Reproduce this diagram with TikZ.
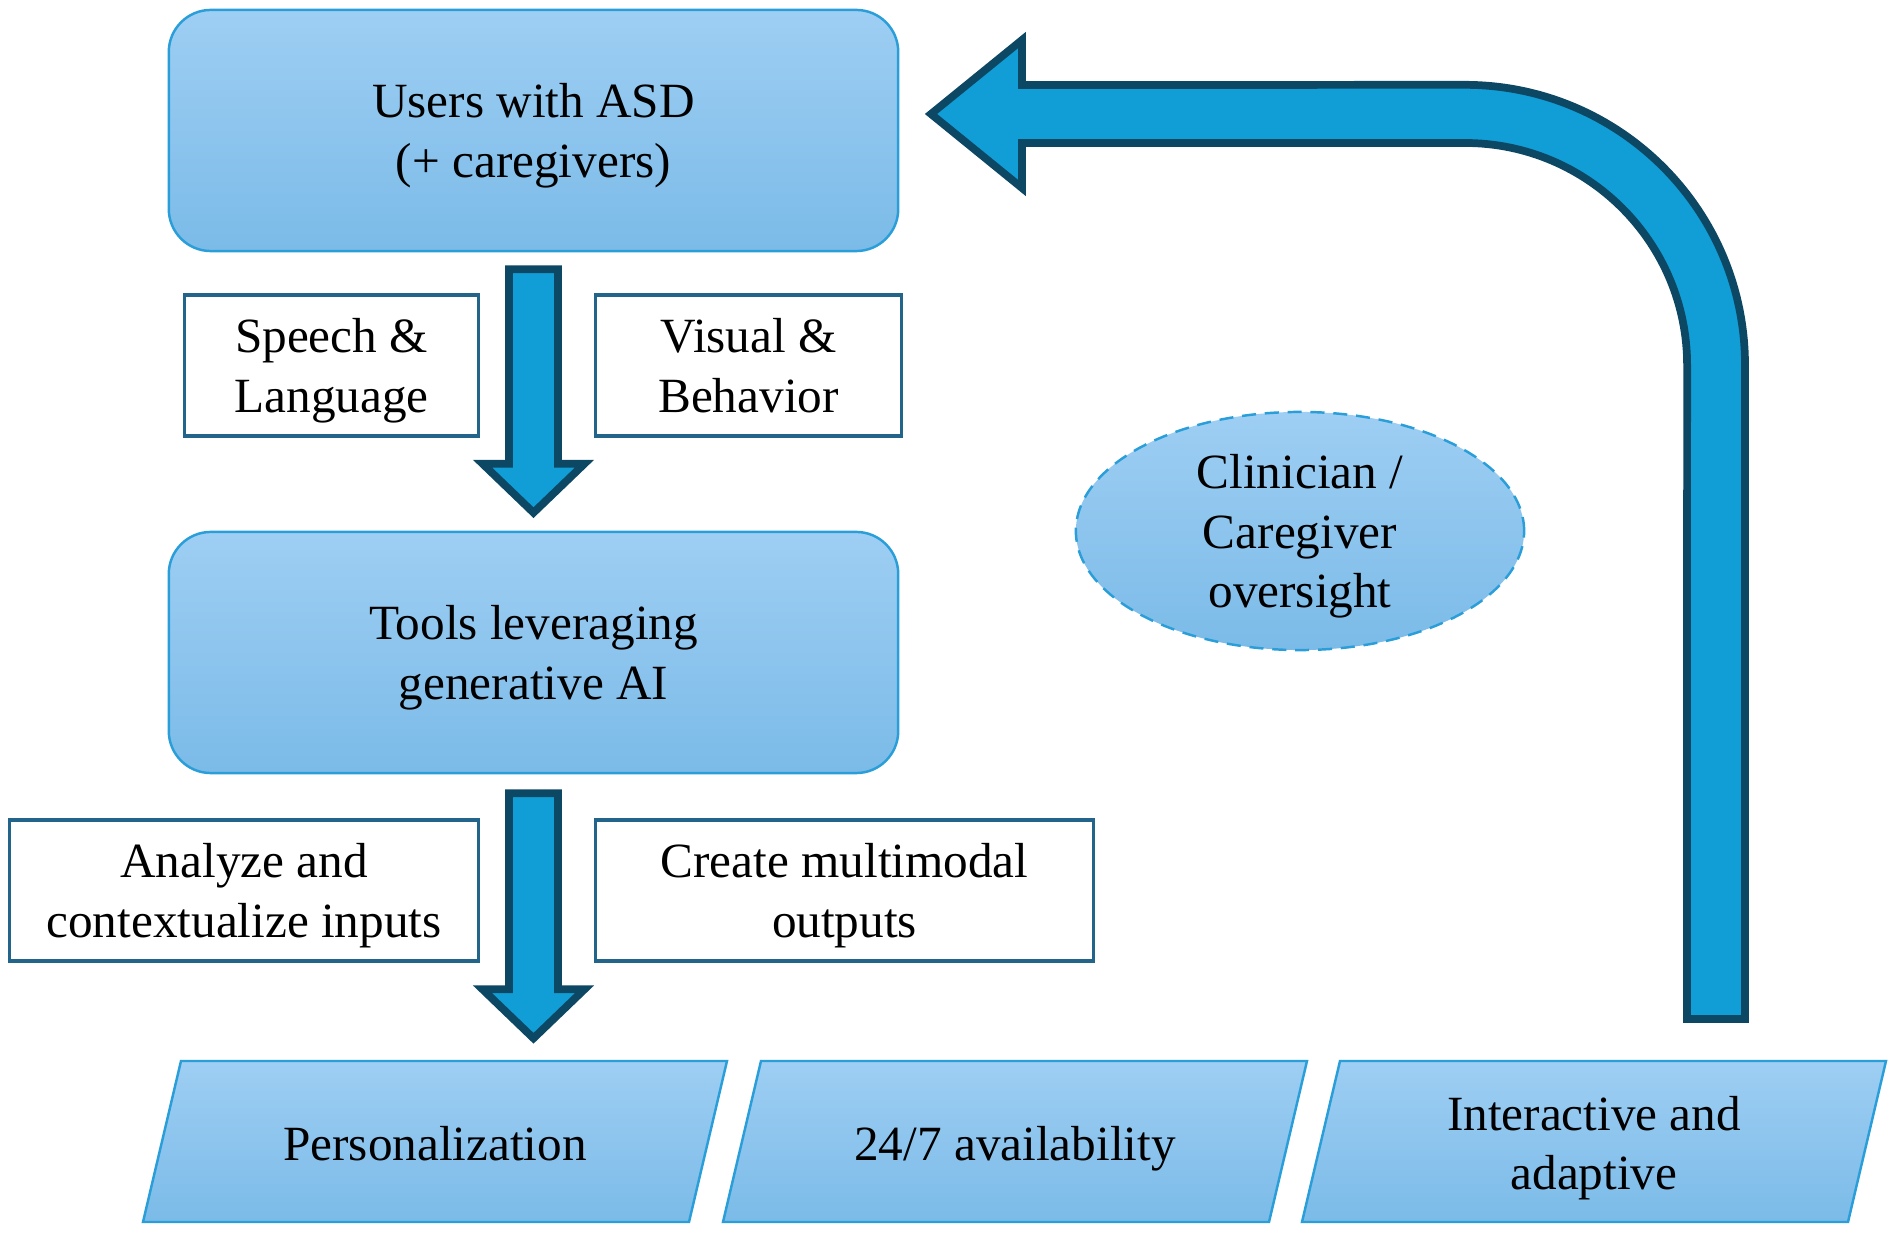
\documentclass[tikz,border=0pt]{standalone}
\usepackage{fontspec}
\setmainfont{Liberation Serif}
\usetikzlibrary{calc,shapes.geometric}
\definecolor{boxtop}{HTML}{9ECEF3}
\definecolor{boxbot}{HTML}{7BBBE8}
\definecolor{boxline}{HTML}{2A9ED8}
\definecolor{tagline}{HTML}{22648A}
\definecolor{arrowfill}{HTML}{119ED6}
\definecolor{arrowline}{HTML}{0C4764}
\tikzset{
  txt/.style={align=center, font=\fontsize{14}{17}\selectfont, text depth=0pt},
  mainbox/.style={txt, draw=boxline, line width=0.7pt, rounded corners=0.42cm,
    top color=boxtop, bottom color=boxbot, minimum width=7.29cm, minimum height=2.41cm},
  tagbox/.style={txt, draw=tagline, line width=0.9pt, fill=white, minimum height=1.41cm},
  featbox/.style={draw=boxline, line width=0.7pt, top color=boxtop, bottom color=boxbot},
  oversight/.style={txt, ellipse, draw=boxline, line width=0.7pt, dash pattern=on 4pt off 2.5pt,
    top color=boxtop, bottom color=boxbot, minimum width=4.48cm, minimum height=2.38cm, inner sep=0pt},
  bigarrow/.style={draw=arrowline, fill=arrowfill, line width=2.2pt}
}
% block arrow pointing down, from tail point to tip point
\newcommand\downblock[2]{%
  \draw[bigarrow] let \p1=(#1), \p2=(#2) in
    (\x1-0.245cm,\y1) -- (\x1+0.245cm,\y1) -- (\x1+0.245cm,\y2+0.49cm) -- (\x1+0.51cm,\y2+0.49cm)
    -- (\x1,\y2) -- (\x1-0.51cm,\y2+0.49cm) -- (\x1-0.245cm,\y2+0.49cm) -- cycle;}
\begin{document}
\begin{tikzpicture}[x=0.01cm,y=-0.01cm]
  \useasboundingbox (0,0) rectangle (1896,1234);

  % main boxes
  \node[mainbox] (users) at (533.5,130.5) {Users with ASD\\(+ caregivers)};
  \node[mainbox] (tools) at (533.5,652.5) {Tools leveraging\\generative AI};

  % side labels
  \node[tagbox, minimum width=2.93cm] (speech) at (331.5,365.5) {Speech \&\\Language};
  \node[tagbox, minimum width=3.05cm] (visual) at (748.5,365.5) {Visual \&\\Behavior};
  \node[tagbox, minimum width=4.68cm] (analyze) at (244,890.5) {Analyze and\\contextualize inputs};
  \node[tagbox, minimum width=4.97cm] (create) at (844.5,890.5) {Create multimodal\\outputs};

  \downblock{$(users.south)+(0,17)$}{$(tools.north)+(0,-18)$}
  \downblock{$(tools.south)+(0,19)$}{$(tools.south)+(0,264)$}

  % features
  \path[featbox] (181,1061) -- (727,1061) -- (689,1222) -- (143,1222) -- cycle;
  \path[featbox] (761,1061) -- (1307,1061) -- (1269,1222) -- (723,1222) -- cycle;
  \path[featbox] (1340,1061) -- (1886,1061) -- (1848,1222) -- (1302,1222) -- cycle;
  \node[txt] (pers) at (435,1143) {Personalization};
  \node[txt] (avail) at (1015,1143) {24/7 availability};
  \node[txt] (inter) at (1594,1143) {Interactive and\\adaptive};

  \node[oversight] (clin) at (1300,531) {Clinician /\\Caregiver\\oversight};

  % feedback arrow
  \draw[bigarrow] (1687,1019) -- (1745,1019) -- (1745,365) arc[start angle=0,end angle=90,radius=2.8cm]
    -- (1022,85) -- (1022,40) -- (931,114) -- (1022,188) -- (1022,143) -- (1465,143)
    arc[start angle=90,end angle=0,radius=2.22cm] -- cycle;
\end{tikzpicture}
\end{document}
